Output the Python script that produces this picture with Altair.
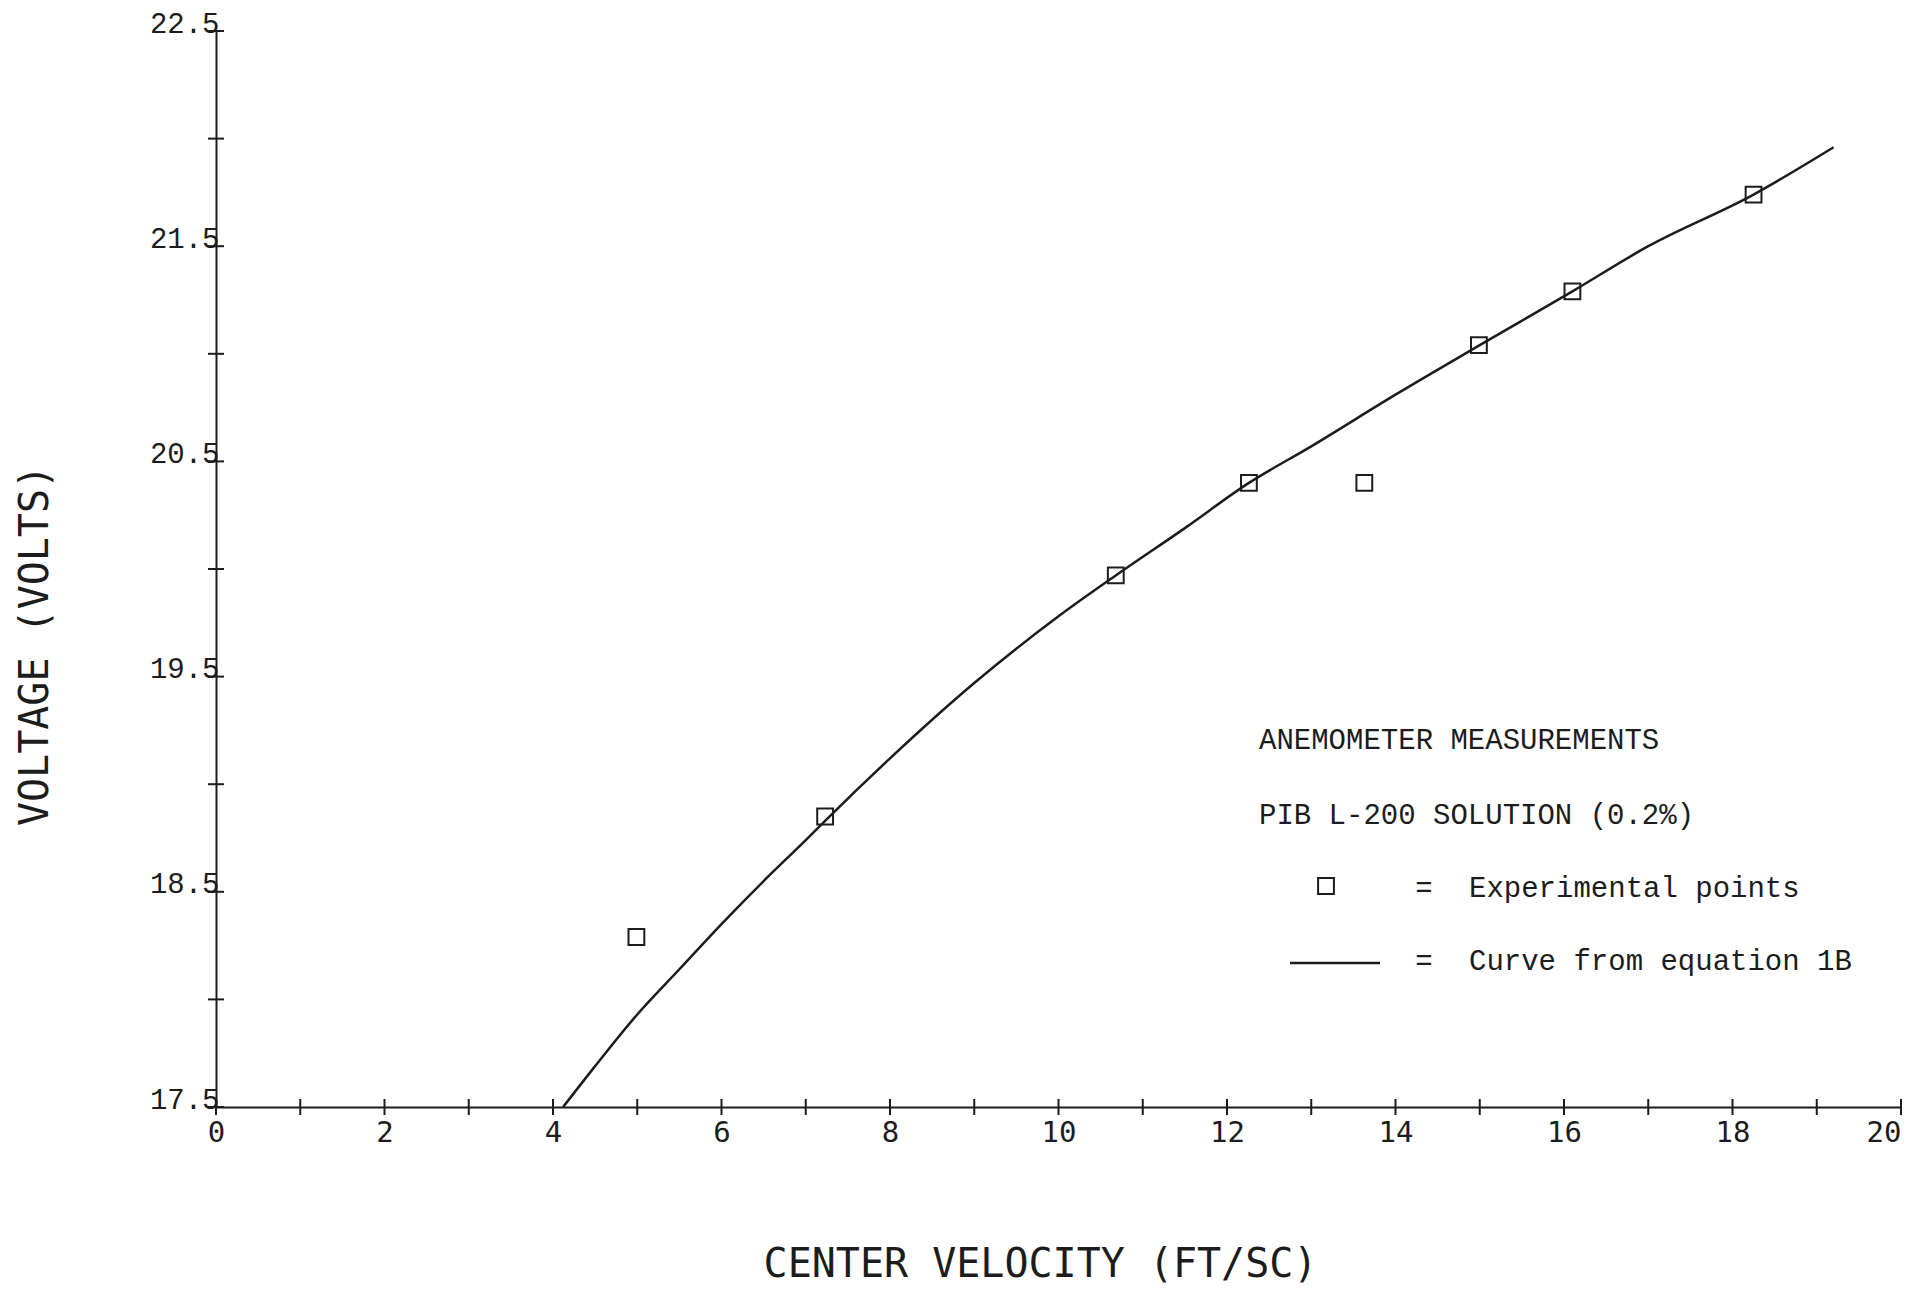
import altair as alt
import pandas as pd

# ---- data ----
velocity = [4.99, 7.23, 10.68, 12.26, 13.63, 14.99, 16.10, 18.25]
voltage = [18.29, 18.85, 19.97, 20.40, 20.40, 21.04, 21.29, 21.74]

curve_velocity = [4.12, 4.5, 5.0, 5.5, 6.0, 6.5, 7.0, 7.23, 8.0, 9.0, 10.0,
                  10.68, 11.5, 12.26, 13.0, 14.0, 15.0, 16.1, 17.0, 18.25, 19.2]
curve_voltage = [17.50, 17.69, 17.93, 18.14, 18.35, 18.55, 18.74, 18.83, 19.12, 19.47, 19.78,
                 19.97, 20.19, 20.40, 20.57, 20.81, 21.04, 21.29, 21.50, 21.74, 21.96]

x_ticks = list(range(0, 21))
x_labels = [0, 2, 4, 6, 8, 10, 12, 14, 16, 18, 20]
y_ticks = [17.5, 18.0, 18.5, 19.0, 19.5, 20.0, 20.5, 21.0, 21.5, 22.0, 22.5]
y_labels = [17.5, 18.5, 19.5, 20.5, 21.5, 22.5]

legend_title = "ANEMOMETER MEASUREMENTS"
legend_sub = "PIB L-200 SOLUTION (0.2%)"
legend_points = "Experimental points"
legend_curve = "Curve from equation 1B"
x_title = "CENTER VELOCITY (FT/SC)"
y_title = "VOLTAGE (VOLTS)"

# ---- styling ----
INK = "#1c1c1c"
TYPE_FONT = "Liberation Mono"
PLOT_FONT = "DejaVu Sans Mono"

pts = pd.DataFrame({"velocity": velocity, "voltage": voltage})
curve = pd.DataFrame({"velocity": curve_velocity, "voltage": curve_voltage})

xscale = alt.Scale(domain=[0, 20], nice=False, zero=False)
yscale = alt.Scale(domain=[17.5, 22.5], nice=False, zero=False)

x_axis = alt.Axis(
    values=x_labels, format="d", ticks=False, tickSize=0, grid=False,
    domain=True, domainColor=INK, domainWidth=2,
    labelFont=PLOT_FONT, labelFontSize=29, labelColor=INK, labelPadding=11,
    labelFlush=False, labelAlign=alt.expr("datum.value == 20 ? 'right' : 'center'"),
    title=x_title, titleFont=PLOT_FONT, titleFontSize=40, titleFontWeight="normal",
    titleColor=INK, titleX=824, titleY=157, titleAlign="center", titleBaseline="middle",
)
y_axis = alt.Axis(
    values=y_labels, format=".1f", ticks=False, tickSize=0, grid=False,
    domain=True, domainColor=INK, domainWidth=2,
    labelFont=TYPE_FONT, labelFontSize=29, labelColor=INK, labelPadding=-3,
    labelAlign="right", labelBaseline="alphabetic", labelOffset=1,
    title=y_title, titleFont=PLOT_FONT, titleFontSize=40, titleFontWeight="normal",
    titleColor=INK, titleX=-181, titleY=614, titleAngle=270,
    titleAlign="center", titleBaseline="middle",
)

line = alt.Chart(curve).mark_line(color=INK, strokeWidth=2.5, interpolate="monotone").encode(
    x=alt.X("velocity:Q", scale=xscale, axis=x_axis),
    y=alt.Y("voltage:Q", scale=yscale, axis=y_axis),
    order="velocity:Q",
)

scatter = alt.Chart(pts).mark_point(
    shape="square", size=250, filled=False, stroke=INK, strokeWidth=2, opacity=1
).encode(
    x=alt.X("velocity:Q", scale=xscale, axis=x_axis),
    y=alt.Y("voltage:Q", scale=yscale, axis=y_axis),
)

xt = alt.Chart(pd.DataFrame({"v": x_ticks, "base": [17.5] * len(x_ticks)})).mark_tick(
    orient="vertical", size=16, thickness=2, color=INK, opacity=1
).encode(
    x=alt.X("v:Q", scale=xscale, axis=x_axis),
    y=alt.Y("base:Q", scale=yscale, axis=y_axis),
)

yt = alt.Chart(pd.DataFrame({"v": y_ticks, "base": [0] * len(y_ticks)})).mark_tick(
    orient="horizontal", size=16, thickness=2, color=INK, opacity=1
).encode(
    y=alt.Y("v:Q", scale=yscale, axis=y_axis),
    x=alt.X("base:Q", scale=xscale, axis=x_axis),
)


def label(text, x, y, align="left"):
    return alt.Chart(pd.DataFrame({"t": [text]})).mark_text(
        font=TYPE_FONT, fontSize=29, color=INK, align=align, baseline="alphabetic"
    ).encode(text="t:N", x=alt.value(x), y=alt.value(y))


one = pd.DataFrame({"k": [0]})
leg_square = alt.Chart(one).mark_point(
    shape="square", size=250, filled=False, stroke=INK, strokeWidth=2, opacity=1
).encode(x=alt.value(1110), y=alt.value(855))
leg_line = alt.Chart(one).mark_rule(color=INK, strokeWidth=2.5).encode(
    x=alt.value(1074), x2=alt.value(1164), y=alt.value(932)
)

chart = alt.layer(
    line, scatter, xt, yt,
    label(legend_title, 1043, 718),
    label(legend_sub, 1043, 793),
    leg_square,
    label("=", 1208, 866, "center"),
    label(legend_points, 1253, 866),
    leg_line,
    label("=", 1208, 939, "center"),
    label(legend_curve, 1253, 939),
).properties(
    width=1685, height=1076,
    padding={"left": 216, "top": 31, "right": 4, "bottom": 180},
    autosize=alt.AutoSizeParams(type="none"),
    background="white",
).configure_view(stroke=None)

chart.save("out.html", embed_options={"renderer": "svg", "actions": False})
